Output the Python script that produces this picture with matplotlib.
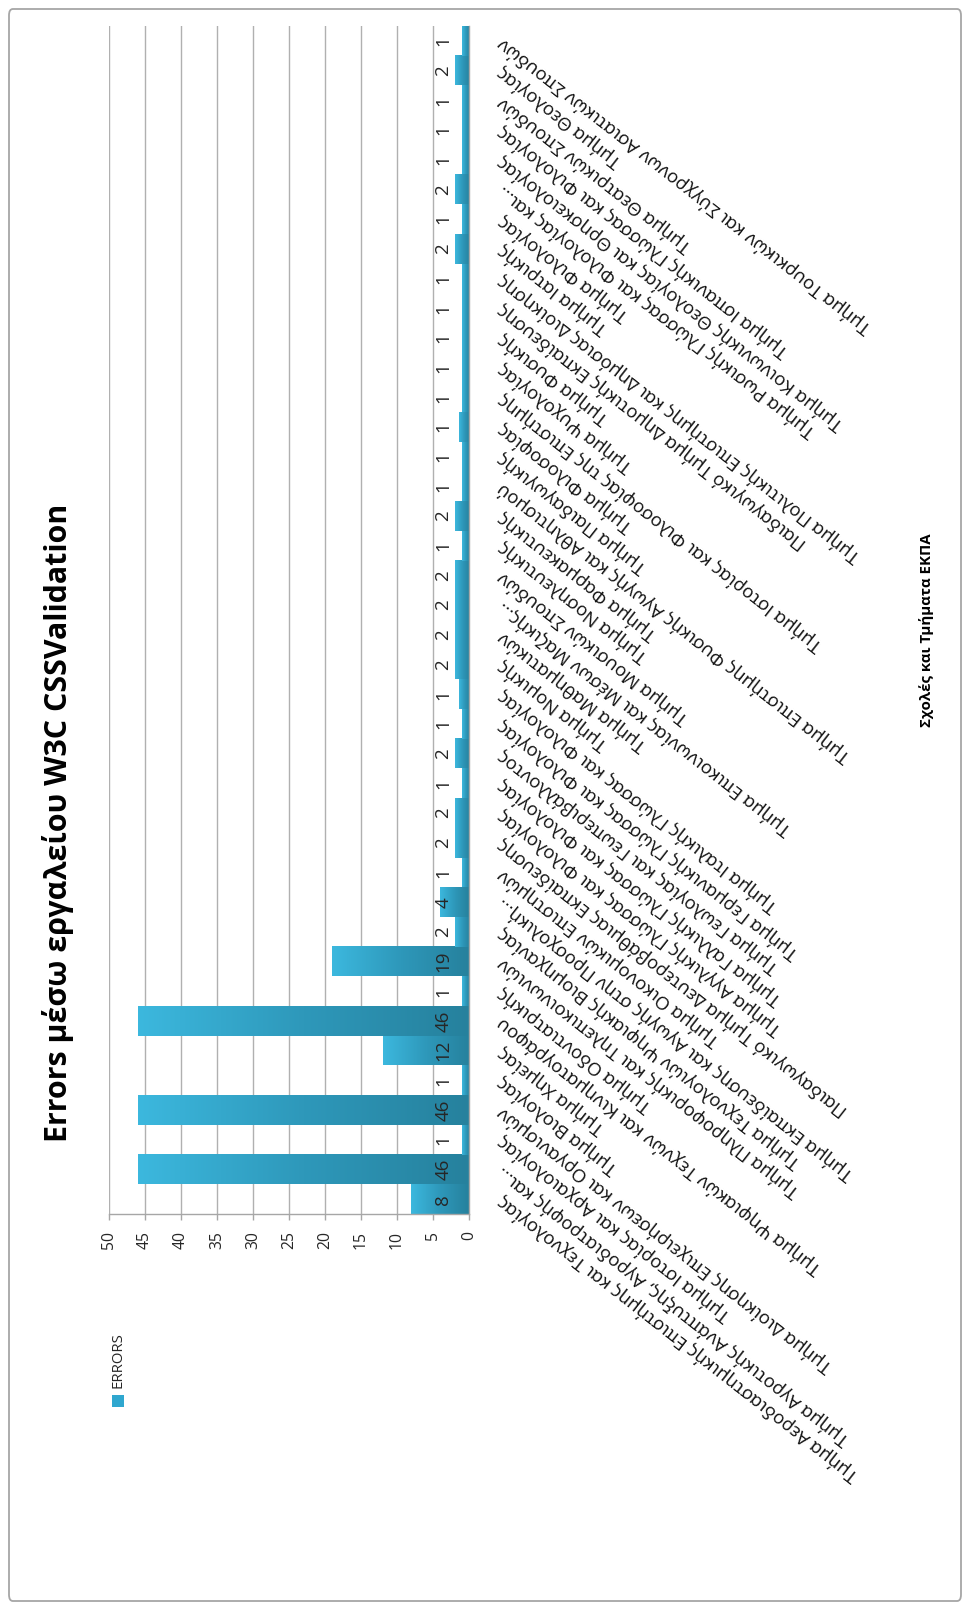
import matplotlib
matplotlib.use('Agg')
import matplotlib.pyplot as plt
import numpy as np
from matplotlib.patches import FancyBboxPatch, Rectangle
from matplotlib.colors import LinearSegmentedColormap

FONT = ['Open Sans', 'DejaVu Sans']
plt.rcParams['font.family'] = FONT

# ---------------- data (bottom -> top, as in the chart) ----------------
categories = [
    "Τμήμα Αεροδιαστημικής Επιστήμης και Τεχνολογίας",
    "Τμήμα Αγροτικής Ανάπτυξης, Αγροδιατροφής και...",
    "Τμήμα Ιστορίας και Αρχαιολογίας",
    "Τμήμα Διοίκησης Επιχειρήσεων και Οργανισμών",
    "Τμήμα Βιολογίας",
    "Τμήμα Χημείας",
    "Τμήμα Ψηφιακών Τεχνών και Κινηματογράφου",
    "Τμήμα Οδοντιατρικής",
    "Τμήμα Πληροφορικής και Τηλεπικοινωνιών",
    "Τμήμα Τεχνολογιών Ψηφιακής Βιομηχανίας",
    "Τμήμα Εκπαίδευσης και Αγωγής στην Προσχολική...",
    "Τμήμα Οικονομικών Επιστημών",
    "Παιδαγωγικό Τμήμα Δευτεροβάθμιας Εκπαίδευσης",
    "Τμήμα Αγγλικής Γλώσσας και Φιλολογίας",
    "Τμήμα Γαλλικής Γλώσσας και Φιλολογίας",
    "Τμήμα Γεωλογίας και Γεωπεριβάλλοντος",
    "Τμήμα Γερμανικής Γλώσσας και Φιλολογίας",
    "Τμήμα Ιταλικής Γλώσσας και Φιλολογίας",
    "Τμήμα Νομικής",
    "Τμήμα Μαθηματικών",
    "Τμήμα Επικοινωνίας και Μέσων Μαζικής...",
    "Τμήμα Μουσικών Σπουδών",
    "Τμήμα Νοσηλευτικής",
    "Τμήμα Φαρμακευτικής",
    "Τμήμα Επιστήμης Φυσικής Αγωγής και Αθλητισμού",
    "Τμήμα Παιδαγωγικής",
    "Τμήμα Φιλοσοφίας",
    "Τμήμα Ιστορίας και Φιλοσοφίας της Επιστήμης",
    "Τμήμα Ψυχολογίας",
    "Τμήμα Φυσικής",
    "Παιδαγωγικό Τμήμα Δημοτικής Εκπαίδευσης",
    "Τμήμα Πολιτικής Επιστήμης και Δημόσιας Διοίκησης",
    "Τμήμα Ιατρικής",
    "Τμήμα Φιλολογίας",
    "Τμήμα Ρωσικής Γλώσσας και Φιλολογίας και...",
    "Τμήμα Κοινωνικής Θεολογίας και Θρησκειολογίας",
    "Τμήμα Ισπανικής Γλώσσας και Φιλολογίας",
    "Τμήμα Θεατρικών Σπουδών",
    "Τμήμα Θεολογίας",
    "Τμήμα Τουρκικών και Σύγχρονων Ασιατικών Σπουδών",
]
errors = [8, 46, 1, 46, 1, 12, 46, 1, 19, 2,
          4, 1, 2, 2, 1, 2, 1, 1.4, 2, 2,
          2, 2, 1, 2, 1, 1, 1.4, 1, 1, 1,
          1, 1, 2, 1, 2, 1, 1, 1, 2, 1]
value_ticks = list(range(0, 51, 5))
series_name = "ERRORS"
title = "Errors μέσω εργαλείου W3C CSSValidation"
axis_title = "Σχολές και Τμήματα ΕΚΠΑ"

# ---------------- figure ----------------
W, H = 970, 1607
fig = plt.figure(figsize=(W / 100, H / 100), dpi=100)
fig.patch.set_facecolor('white')
renderer = fig.canvas.get_renderer()


def fit_size(s, target_px, weight='normal'):
    t = fig.text(0, 0, s, fontsize=10, fontweight=weight, family=FONT)
    w = t.get_window_extent(renderer).width
    t.remove()
    return 10 * target_px / w


def fx(px):
    return px / W


def fy(py):
    return 1 - py / H


# outer border
fig.patches.append(FancyBboxPatch((fx(9), fy(1601)), fx(952), (1592) / H,
                                  boxstyle="round,pad=0,rounding_size=0.004",
                                  transform=fig.transFigure, fill=False,
                                  edgecolor='#a6a6a6', linewidth=1.3))

# plot area
ax = fig.add_axes([fx(109), fy(1214), fx(360), 1188 / H])
ypos = np.arange(len(categories))
bars = ax.barh(ypos, errors, height=1.0, color='none', edgecolor='none')

cmap = LinearSegmentedColormap.from_list('bar', ['#26819d', '#2e98ba', '#3cb8de'])
grad = np.linspace(0, 1, 256).reshape(1, -1)
for b in bars:
    x0 = b.get_x()
    w = b.get_width()
    y0 = b.get_y()
    h = b.get_height()
    ax.imshow(grad, cmap=cmap, extent=(x0, x0 + w, y0, y0 + h),
              aspect='auto', interpolation='bilinear', zorder=2)

ax.set_xlim(50, 0)
ax.set_ylim(-0.5, len(categories) - 0.5)

ax.set_xticks(value_ticks)
ax.set_xticklabels([str(v) for v in value_ticks], rotation=90)
ax.tick_params(axis='x', direction='out', length=4, width=1, color='#a6a6a6',
               labelsize=11.3, pad=8, labelcolor='#262626')
ax.set_yticks([])
ax.xaxis.grid(True, color='#b0b0b0', linewidth=1)
ax.set_axisbelow(True)
for s in ['top', 'left']:
    ax.spines[s].set_visible(False)
for s in ['bottom', 'right']:
    ax.spines[s].set_color('#a6a6a6')
    ax.spines[s].set_linewidth(1)

# data labels (inside base)
for i, v in enumerate(errors):
    ax.annotate(f"{v:.0f}", xy=(0, i), xycoords='data', xytext=(-18.5, 0),
                textcoords='offset points', rotation=90, ha='center', va='center',
                fontsize=13.5, color='#262626', zorder=5)

# category labels
lab_size = fit_size(categories[-1], 468)
for i, lab in enumerate(categories):
    ax.annotate(lab, xy=(0, i), xycoords='data', xytext=(22.3, 0),
                textcoords='offset points', rotation=142, rotation_mode='anchor',
                ha='right', va='center', fontsize=lab_size, color='#111111',
                annotation_clip=False)

# title
t_size = fit_size(title, 640, weight='bold')
fig.text(fx(58), fy(823), title, rotation=90, ha='center', va='center',
         fontsize=t_size, fontweight='bold', color='#000000')

# axis title
a_size = fit_size(axis_title, 193, weight='bold')
fig.text(fx(927), fy(630), axis_title, rotation=90, ha='center', va='center',
         fontsize=a_size, fontweight='bold', color='#000000')

# legend
fig.patches.append(Rectangle((fx(112), fy(1407)), fx(12), 12 / H,
                             transform=fig.transFigure, facecolor='#2fa7cf',
                             edgecolor='none'))
l_size = fit_size(series_name, 56)
fig.text(fx(118), fy(1388), series_name, rotation=90, ha='center', va='bottom',
         fontsize=l_size, color='#262626')

fig.savefig('out.png', dpi=100)
